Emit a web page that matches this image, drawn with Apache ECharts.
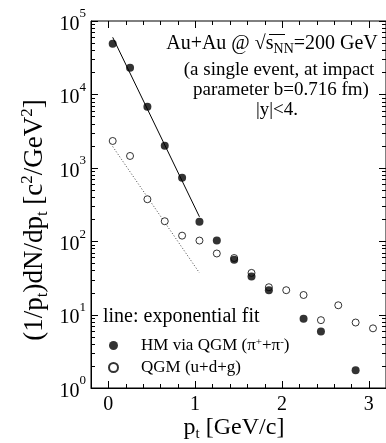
<!DOCTYPE html>
<html><head><meta charset="utf-8">
<script src="https://cdn.jsdelivr.net/npm/echarts@6/dist/echarts.min.js"></script>
<style>html,body{margin:0;padding:0;background:#fff}#c{width:386px;height:443px}</style>
</head><body><div id="c"></div>
<script>
// ---- data ----
const ptHM   = [0.05, 0.25, 0.45, 0.65, 0.85, 1.05, 1.25, 1.45, 1.65, 1.85, 2.25, 2.45, 2.85];
const valHM  = [49000, 23000, 6800, 2000, 730, 184, 102, 56, 33, 21.5, 8.8, 5.9, 1.75];
const ptQGM  = [0.05, 0.25, 0.45, 0.65, 0.85, 1.05, 1.25, 1.45, 1.65, 1.85, 2.05, 2.25, 2.45, 2.65, 2.85, 3.05];
const valQGM = [2320, 1450, 373, 187, 119, 102, 68, 59, 37, 23.6, 21.5, 18.5, 8.4, 13.4, 7.8, 6.5];
const fitHMpt   = [0.05, 1.05];
const fitHMval  = [60000, 215];
const fitQGMpt  = [0.05, 1.05];
const fitQGMval = [1950, 37];
const xTickLabels = [0, 1, 2, 3];
const xMinorTicks = [-0.2,0,0.2,0.4,0.6,0.8,1,1.2,1.4,1.6,1.8,2,2.2,2.4,2.6,2.8,3,3.2];
const yDecades = [1, 10, 100, 1000, 10000, 100000];

const XMIN = -0.2, XMAX = 3.2, YMIN = 1, YMAX = 100000;
const FF = '"Liberation Serif","Times New Roman",serif';

// tick specs: [dummyX, dummyY, side(1 left,2 right,3 bottom,4 top), value, major]
const tickData = [];
yDecades.forEach(function (d, i) {
  [1, 2].forEach(function (s) { tickData.push([1, 10, s, d, 1]); });
  if (i < yDecades.length - 1) {
    for (let k = 2; k <= 9; k++) {
      [1, 2].forEach(function (s) { tickData.push([1, 10, s, k * d, 0]); });
    }
  }
});
xMinorTicks.forEach(function (v) {
  const major = xTickLabels.indexOf(Math.round(v * 10) / 10) >= 0 ? 1 : 0;
  [3, 4].forEach(function (s) { tickData.push([1, 10, s, v, major]); });
});

function renderTicks(params, api) {
  const side = api.value(2), v = api.value(3), major = api.value(4);
  const len = major ? 7 : 4;
  let x1, y1, x2, y2, p;
  if (side === 1) { p = api.coord([XMIN, v]); y1 = y2 = Math.round(p[1]) + 0.5; x1 = p[0]; x2 = p[0] + len; }
  else if (side === 2) { p = api.coord([XMAX, v]); y1 = y2 = Math.round(p[1]) + 0.5; x1 = p[0]; x2 = p[0] - len; }
  else if (side === 3) { p = api.coord([v, YMIN]); x1 = x2 = Math.round(p[0]) + 0.5; y1 = p[1]; y2 = p[1] - len; }
  else { p = api.coord([v, YMAX]); x1 = x2 = Math.round(p[0]) + 0.5; y1 = p[1]; y2 = p[1] + len; }
  return { type: 'line', shape: { x1: x1, y1: y1, x2: x2, y2: y2 }, style: { stroke: '#000', lineWidth: 1 } };
}

const chart = echarts.init(document.getElementById('c'), null, { renderer: 'canvas' });
chart.setOption({
  backgroundColor: '#fff',
  animation: false,
  grid: { left: 91, right: -2, top: 21, bottom: 55, show: true, borderColor: '#000', borderWidth: 1, backgroundColor: 'transparent' },
  xAxis: {
    type: 'value', min: XMIN, max: XMAX,
    axisLine: { show: true, onZero: false, lineStyle: { color: '#000' } },
    axisTick: { show: false }, splitLine: { show: false },
    axisLabel: { customValues: xTickLabels, color: '#000', fontFamily: FF, fontSize: 20, margin: 7 }
  },
  yAxis: {
    type: 'log', logBase: 10, min: YMIN, max: YMAX,
    axisLine: { show: true, onZero: false, lineStyle: { color: '#000' } },
    axisTick: { show: false }, splitLine: { show: false }, minorTick: { show: false },
    axisLabel: {
      color: '#000', fontFamily: FF, margin: 5,
      formatter: function (v) { return '{b|10}{s|' + Math.round(Math.log10(v)) + '}'; },
      rich: {
        b: { fontFamily: FF, fontSize: 20, lineHeight: 27, verticalAlign: 'bottom', color: '#000' },
        s: { fontFamily: FF, fontSize: 13, lineHeight: 13, verticalAlign: 'top', color: '#000' }
      }
    }
  },
  legend: {
    left: 103, top: 332, orient: 'vertical', itemWidth: 9, itemHeight: 9, itemGap: 5,
    data: ['HM', 'QGM'],
    textStyle: {
      fontFamily: FF, fontSize: 17, color: '#000', padding: [0, 0, 0, 18],
      rich: {
        a: { fontFamily: FF, fontSize: 17, color: '#000', lineHeight: 17 },
        u: { fontFamily: FF, fontSize: 11, color: '#000', lineHeight: 17, verticalAlign: 'top' }
      }
    },
    formatter: function (name) {
      return name === 'HM' ? '{a|HM via QGM (π}{u|+}{a|+π}{u|-}{a|)}' : '{a|QGM (u+d+g)}';
    }
  },
  graphic: [
    { type: 'text', x: 272, y: 44, style: { text: '{a|Au+Au @ }{r|√}{a|s}{n|NN}{a|=200 GeV}', textAlign: 'center', textVerticalAlign: 'middle',
      rich: { a: { fontFamily: FF, fontSize: 20, fill: '#000', lineHeight: 24 }, r: { fontFamily: FF, fontSize: 20, fill: '#000', lineHeight: 24 }, n: { fontFamily: FF, fontSize: 14, fill: '#000', lineHeight: 24, verticalAlign: 'bottom' } } } },
    { type: 'line', shape: { x1: 269, y1: 34.5, x2: 285, y2: 34.5 }, style: { stroke: '#000', lineWidth: 1 } },
    { type: 'text', x: 279, y: 70, style: { text: '(a single event, at impact', font: '19px ' + FF, fill: '#000', textAlign: 'center', textVerticalAlign: 'middle' } },
    { type: 'text', x: 281, y: 90, style: { text: 'parameter b=0.716 fm)', font: '19px ' + FF, fill: '#000', textAlign: 'center', textVerticalAlign: 'middle' } },
    { type: 'text', x: 277, y: 110, style: { text: '|y|<4.', font: '19px ' + FF, fill: '#000', textAlign: 'center', textVerticalAlign: 'middle' } },
    { type: 'text', x: 103, y: 317, style: { text: 'line: exponential fit', font: '20px ' + FF, fill: '#000', textAlign: 'left', textVerticalAlign: 'middle' } },
    { type: 'text', x: 234, y: 428, style: { text: '{a|p}{t|t}{a| [GeV/c]}', textAlign: 'center', textVerticalAlign: 'middle',
      rich: { a: { fontFamily: FF, fontSize: 24, fill: '#000', lineHeight: 28 }, t: { fontFamily: FF, fontSize: 15, fill: '#000', lineHeight: 28, verticalAlign: 'bottom' } } } },
    { type: 'text', x: 35, y: 220, rotation: Math.PI / 2, style: { text: '{a|(1/p}{t|t}{a|)dN/dp}{t|t}{a| [c}{u|2}{a|/GeV}{u|2}{a|]}', textAlign: 'center', textVerticalAlign: 'middle',
      rich: { a: { fontFamily: FF, fontSize: 27, fill: '#000', lineHeight: 32 }, t: { fontFamily: FF, fontSize: 17, fill: '#000', lineHeight: 32, verticalAlign: 'bottom' }, u: { fontFamily: FF, fontSize: 17, fill: '#000', lineHeight: 17, verticalAlign: 'top' } } } }
  ],
  series: [
    { type: 'custom', name: 'ticks', renderItem: renderTicks, data: tickData, silent: true, z: 5 },
    { type: 'line', name: 'fitHM', data: fitHMpt.map(function (x, i) { return [x, fitHMval[i]]; }), symbol: 'none', lineStyle: { color: '#000', width: 1 }, z: 2 },
    { type: 'line', name: 'fitQGM', data: fitQGMpt.map(function (x, i) { return [x, fitQGMval[i]]; }), symbol: 'none', lineStyle: { color: '#444', width: 1, type: [1, 2] }, z: 2 },
    { type: 'scatter', name: 'HM', data: ptHM.map(function (x, i) { return [x, valHM[i]]; }), symbol: 'circle', symbolSize: 8, itemStyle: { color: '#000' }, z: 4 },
    { type: 'scatter', name: 'QGM', data: ptQGM.map(function (x, i) { return [x, valQGM[i]]; }), symbol: 'circle', symbolSize: 7, itemStyle: { color: '#fff', borderColor: '#000', borderWidth: 1 }, z: 3 }
  ]
});
</script></body></html>
